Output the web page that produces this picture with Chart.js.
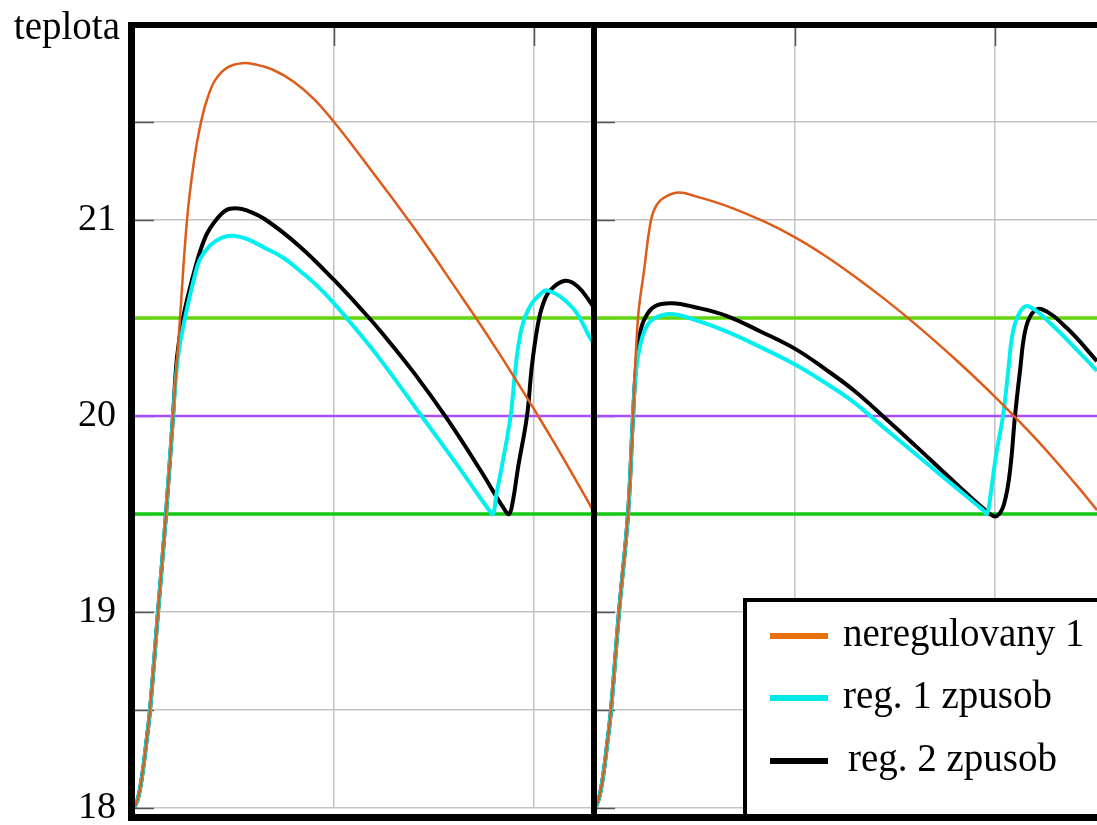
<!DOCTYPE html>
<html>
<head>
<meta charset="utf-8">
<script src="https://cdn.jsdelivr.net/npm/chart.js@4.4.1/dist/chart.umd.min.js"></script>
<style>
  html, body { margin: 0; padding: 0; background: #ffffff; overflow: hidden; }
  canvas { display: block; }
</style>
</head>
<body>
<canvas id="chart" width="1097" height="825"></canvas>
<script>
// Two consecutive runs drawn side by side; each run has its own time origin.
const panelStarts = [0, 2.305];
const panelBoundary = 2.3;
const xEnd = 4.815;
const gridTimes = [1, 2];

const yMin = 18;
const yMax = 22;
const yStep = 0.5;
const yTitle = 'teplota';

// Limits: upper band, set point, lower band
const limitValues = [20.5, 20, 19.5];
const limitColors = ['#62d60c', '#a94dff', '#14c814'];
const limitWidths = [3.5, 2.5, 3.5];

const seriesLabels = ['neregulovany 1', 'reg. 1 zpusob', 'reg. 2 zpusob'];
const seriesColors = ['#de5c1a', '#00f0f0', '#000000'];
const seriesWidths = [2.5, 4, 4];

// [time, temperature] – first run
const neregulovany1A = [[0,18],[0.02,18.05],[0.04,18.16],[0.06,18.32],[0.08,18.5],[0.12,19.0],[0.16,19.5],[0.195,20.0],[0.23,20.5],[0.265,21.0],[0.3,21.3],[0.335,21.5],[0.37,21.63],[0.41,21.72],[0.47,21.78],[0.54,21.8],[0.6,21.795],[0.7,21.764],[0.8,21.704],[0.9,21.617],[1.0,21.5],[1.1,21.37],[1.2,21.235],[1.3,21.1],[1.4,20.96],[1.5,20.815],[1.6,20.665],[1.7,20.515],[1.8,20.36],[1.9,20.2],[2.0,20.035],[2.1,19.865],[2.2,19.69],[2.3,19.51]];
const reg1A = [[0,18],[0.02,18.05],[0.04,18.16],[0.06,18.32],[0.08,18.5],[0.12,19.0],[0.16,19.5],[0.195,20.0],[0.22,20.3],[0.255,20.5],[0.3,20.7],[0.33,20.8],[0.38,20.87],[0.44,20.91],[0.495,20.92],[0.56,20.905],[0.66,20.855],[0.75,20.805],[0.83,20.74],[0.92,20.66],[1.0,20.575],[1.1,20.455],[1.23,20.29],[1.445,19.99],[1.63,19.73],[1.775,19.52],[1.795,19.5],[1.812,19.6],[1.838,19.735],[1.883,20.0],[1.905,20.22],[1.925,20.38],[1.947,20.48],[1.975,20.55],[2.01,20.6],[2.07,20.64],[2.195,20.55],[2.285,20.39],[2.3,20.37]];
const reg2A = [[0,18],[0.02,18.05],[0.04,18.16],[0.06,18.32],[0.08,18.5],[0.12,19.0],[0.16,19.5],[0.195,20.0],[0.215,20.3],[0.245,20.5],[0.31,20.77],[0.36,20.92],[0.41,21.0],[0.46,21.05],[0.505,21.06],[0.56,21.05],[0.66,21.0],[0.83,20.864],[1.0,20.694],[1.16,20.518],[1.235,20.43],[1.4,20.22],[1.565,19.986],[1.73,19.727],[1.845,19.535],[1.875,19.5],[1.895,19.57],[1.92,19.735],[1.965,20.0],[1.99,20.26],[2.02,20.47],[2.045,20.57],[2.08,20.64],[2.155,20.69],[2.22,20.66],[2.285,20.575],[2.3,20.55]];

// [time, temperature] – second run
const neregulovany1B = [[0,18],[0.02,18.05],[0.04,18.16],[0.06,18.32],[0.08,18.5],[0.12,19.0],[0.165,19.5],[0.19,20.0],[0.215,20.5],[0.245,20.74],[0.28,21.0],[0.31,21.08],[0.355,21.12],[0.42,21.14],[0.5,21.122],[0.66,21.071],[0.85,20.99],[1.005,20.909],[1.15,20.818],[1.3,20.711],[1.45,20.595],[1.6,20.47],[1.8,20.291],[2.0,20.098],[2.2,19.888],[2.4,19.656],[2.51,19.52]];
const reg1B = [[0,18],[0.02,18.05],[0.04,18.16],[0.06,18.32],[0.08,18.5],[0.12,19.0],[0.165,19.5],[0.19,20.0],[0.205,20.23],[0.228,20.37],[0.26,20.46],[0.3,20.5],[0.38,20.52],[0.5,20.49],[0.66,20.43],[0.83,20.35],[1.005,20.26],[1.15,20.17],[1.295,20.07],[1.41,19.97],[1.61,19.8],[1.775,19.66],[1.94,19.52],[1.96,19.5],[1.978,19.6],[2.005,19.8],[2.04,20.0],[2.066,20.23],[2.09,20.43],[2.125,20.53],[2.165,20.56],[2.275,20.475],[2.44,20.305],[2.51,20.23]];
const reg2B = [[0,18],[0.02,18.05],[0.04,18.16],[0.06,18.32],[0.08,18.5],[0.12,19.0],[0.165,19.5],[0.19,20.0],[0.205,20.25],[0.225,20.42],[0.25,20.5],[0.3,20.56],[0.385,20.575],[0.5,20.555],[0.66,20.51],[0.83,20.43],[1.005,20.34],[1.15,20.24],[1.295,20.13],[1.45,19.99],[1.6,19.85],[1.8,19.66],[1.975,19.5],[2.01,19.49],[2.045,19.55],[2.075,19.72],[2.1,20.0],[2.125,20.23],[2.15,20.43],[2.183,20.52],[2.233,20.545],[2.358,20.45],[2.51,20.28]];

const runsBySeries = [
  [neregulovany1A, neregulovany1B],
  [reg1A, reg1B],
  [reg2A, reg2B]
];

// Join both runs into one dataset, with a break between them.
function joinRuns(runs) {
  const out = [];
  runs.forEach((run, i) => {
    if (i > 0) out.push({ x: panelStarts[i], y: null });
    run.forEach(([t, v]) => out.push({ x: panelStarts[i] + t, y: v }));
  });
  return out;
}

const curveDatasets = seriesLabels.map((label, i) => ({
  label,
  data: joinRuns(runsBySeries[i]),
  borderColor: seriesColors[i],
  backgroundColor: seriesColors[i],
  borderWidth: seriesWidths[i],
  pointRadius: 0,
  tension: 0.4,
  spanGaps: false,
  order: i + 1
}));

const limitDatasets = limitValues.map((v, i) => ({
  label: 'limit ' + v,
  data: [{ x: 0, y: v }, { x: xEnd, y: v }],
  borderColor: limitColors[i],
  borderWidth: limitWidths[i],
  pointRadius: 0,
  order: 10 + i
}));

const serif = '"Liberation Serif", "Times New Roman", serif';

// Inner tick marks at the start of each panel and at the top of vertical grid lines
const innerTicks = {
  id: 'innerTicks',
  beforeDatasetsDraw(chart) {
    const { ctx, chartArea, scales: { x, y } } = chart;
    ctx.save();
    ctx.strokeStyle = '#555555';
    ctx.lineWidth = 1.5;
    ctx.beginPath();
    panelStarts.forEach(p => {
      const px = x.getPixelForValue(p);
      for (let v = yMin; v < yMax; v += yStep) {
        const py = Math.round(y.getPixelForValue(v)) + 0.5;
        ctx.moveTo(px, py);
        ctx.lineTo(px + 20, py);
      }
      gridTimes.forEach(g => {
        const gx = Math.round(x.getPixelForValue(p + g)) + 0.5;
        ctx.moveTo(gx, chartArea.top);
        ctx.lineTo(gx, chartArea.top + 22);
      });
    });
    ctx.stroke();
    ctx.restore();
  }
};

// Heavy frame around the plots, axis name and the legend box
const frameAndLegend = {
  id: 'frameAndLegend',
  afterDraw(chart) {
    const { ctx, chartArea, scales: { x } } = chart;
    const left = chartArea.left - 2.5;
    const top = chartArea.top + 1;
    const bottom = chartArea.bottom + 9.5;
    const right = chart.width + 10;
    ctx.save();
    ctx.strokeStyle = '#000000';
    ctx.lineCap = 'butt';

    ctx.lineWidth = 7;
    ctx.beginPath();
    ctx.moveTo(left, top - 3);
    ctx.lineTo(left, bottom + 3.5);
    ctx.moveTo(left - 3.5, bottom);
    ctx.lineTo(right, bottom);
    ctx.stroke();

    ctx.lineWidth = 6;
    ctx.beginPath();
    ctx.moveTo(left - 3.5, top);
    ctx.lineTo(right, top);
    const mid = x.getPixelForValue(panelBoundary);
    ctx.moveTo(mid, top - 3);
    ctx.lineTo(mid, bottom + 3.5);
    ctx.stroke();

    // axis name
    ctx.fillStyle = '#000000';
    ctx.font = '39px ' + serif;
    ctx.textAlign = 'right';
    ctx.textBaseline = 'alphabetic';
    ctx.fillText(yTitle, chartArea.left - 14, chartArea.top + 15);

    // legend
    const bx = 745, by = 600;
    ctx.fillStyle = '#ffffff';
    ctx.fillRect(bx, by, right - bx, bottom - by);
    ctx.lineWidth = 4;
    ctx.strokeRect(bx, by, right - bx, bottom - by);
    ctx.lineWidth = 7;
    ctx.beginPath();
    ctx.moveTo(bx - 2, bottom);
    ctx.lineTo(right, bottom);
    ctx.stroke();

    const rows = [636, 698, 761];
    const textX = [843, 843, 848];
    const legendColors = ['#e8700e', '#00e8e8', '#000000'];
    ctx.font = '39px ' + serif;
    ctx.textAlign = 'left';
    seriesLabels.forEach((label, i) => {
      ctx.strokeStyle = legendColors[i];
      ctx.lineWidth = 6;
      ctx.beginPath();
      ctx.moveTo(770, rows[i]);
      ctx.lineTo(828, rows[i]);
      ctx.stroke();
      ctx.fillStyle = '#000000';
      ctx.fillText(label, textX[i], rows[i] + 10);
    });
    ctx.restore();
  }
};

new Chart(document.getElementById('chart'), {
  type: 'line',
  data: { datasets: [...curveDatasets, ...limitDatasets] },
  options: {
    responsive: false,
    animation: false,
    devicePixelRatio: 1,
    layout: { padding: { top: 24, bottom: 17, left: 0, right: 0 } },
    plugins: {
      legend: { display: false },
      tooltip: { enabled: false }
    },
    scales: {
      x: {
        type: 'linear',
        min: 0,
        max: xEnd,
        border: { display: false },
        ticks: { display: false },
        afterBuildTicks(scale) {
          const vals = [];
          panelStarts.forEach(p => {
            vals.push(p);
            gridTimes.forEach(g => vals.push(p + g));
          });
          vals.push(panelBoundary);
          scale.ticks = vals.sort((a, b) => a - b).map(v => ({ value: v }));
        },
        afterFit(scale) { scale.height = 0; scale.paddingLeft = 0; scale.paddingRight = 0; },
        grid: {
          drawTicks: false,
          lineWidth: 1.5,
          color(ctx) {
            const v = ctx.tick && ctx.tick.value;
            return panelStarts.includes(v) || v === panelBoundary ? 'rgba(0,0,0,0)' : '#c4c4c4';
          }
        }
      },
      y: {
        type: 'linear',
        min: yMin,
        max: yMax,
        border: { display: false },
        afterFit(scale) { scale.width = 134; scale.paddingTop = 0; scale.paddingBottom = 0; },
        ticks: {
          stepSize: yStep,
          autoSkip: false,
          padding: 18,
          color: '#000000',
          font: { family: serif, size: 38 },
          callback(v) {
            return Number.isInteger(v) && v < yMax ? String(v) : '';
          }
        },
        grid: {
          drawTicks: false,
          lineWidth: 1.5,
          color(ctx) {
            return ctx.tick && ctx.tick.value === yMax ? 'rgba(0,0,0,0)' : '#c4c4c4';
          }
        }
      }
    }
  },
  plugins: [innerTicks, frameAndLegend]
});
</script>
</body>
</html>
